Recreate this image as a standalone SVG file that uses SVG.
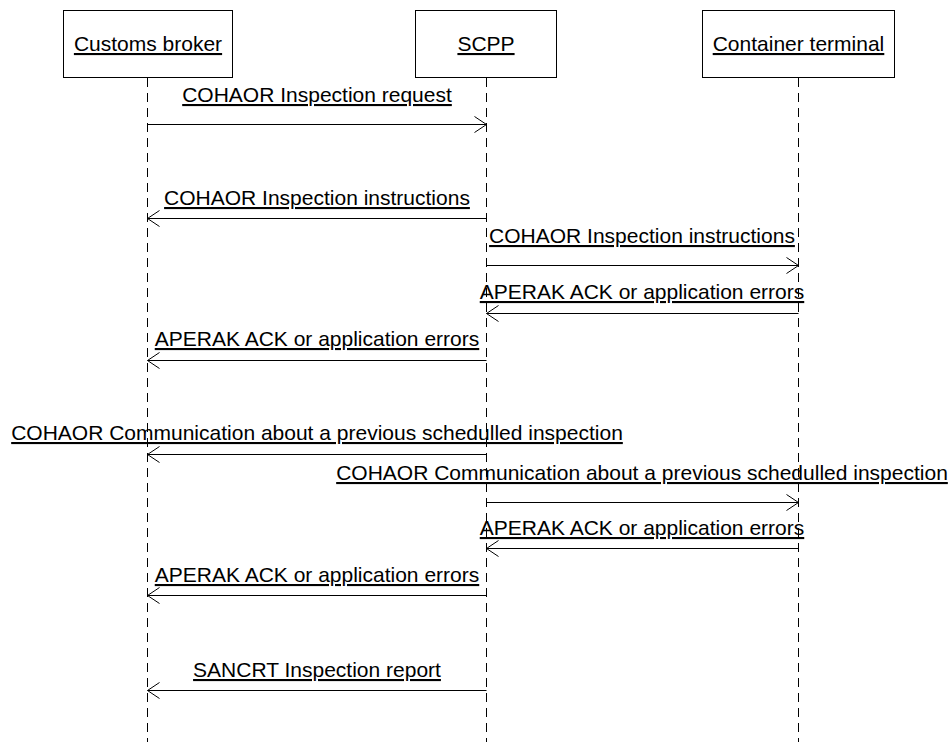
<svg xmlns="http://www.w3.org/2000/svg" width="948" height="742" viewBox="0 0 948 742">
<style>
  text { font-family: "Liberation Sans", Arial, sans-serif; font-size: 21px; fill: #000; text-decoration: underline; text-anchor: middle; }
  .box { fill: #fff; stroke: #000; stroke-width: 1; }
  .life { stroke: #000; stroke-width: 1; stroke-dasharray: 9 6; fill: none; }
  .msg { stroke: #000; stroke-width: 1; fill: none; marker-end: url(#open); }
</style>
<defs>
  <marker id="open" markerUnits="userSpaceOnUse" markerWidth="16" markerHeight="20" viewBox="-14 -10 16 20" refX="0" refY="0" orient="auto">
    <path d="M-12,-8 L0,0 L-12,8" fill="none" stroke="#000" stroke-width="1"/>
  </marker>
</defs>
<rect width="948" height="742" fill="#fff"/>
<g id="lifelines">
  <line class="life" x1="147.5" y1="78" x2="147.5" y2="742"/>
  <line class="life" x1="486.5" y1="78" x2="486.5" y2="742"/>
  <line class="life" x1="798.5" y1="78" x2="798.5" y2="742"/>
</g>
<g id="node-customs-broker">
  <rect class="box" x="63.5" y="10.5" width="169" height="67"/>
  <text x="148" y="51">Customs broker</text>
</g>
<g id="node-scpp">
  <rect class="box" x="415.5" y="10.5" width="141" height="67"/>
  <text x="486" y="51">SCPP</text>
</g>
<g id="node-container-terminal">
  <rect class="box" x="702.5" y="10.5" width="192" height="67"/>
  <text x="798.5" y="51">Container terminal</text>
</g>
<g id="connectors">
  <line class="msg" x1="147.5" y1="124.5" x2="486.5" y2="124.5"/>
  <text x="317" y="102">COHAOR Inspection request</text>

  <line class="msg" x1="486.5" y1="218.5" x2="147.5" y2="218.5"/>
  <text x="317" y="205">COHAOR Inspection instructions</text>

  <line class="msg" x1="486.5" y1="265.5" x2="798.5" y2="265.5"/>
  <text x="642" y="243">COHAOR Inspection instructions</text>

  <line class="msg" x1="798.5" y1="313.5" x2="486.5" y2="313.5"/>
  <text x="642" y="299">APERAK ACK or application errors</text>

  <line class="msg" x1="486.5" y1="360.5" x2="147.5" y2="360.5"/>
  <text x="317" y="346">APERAK ACK or application errors</text>

  <line class="msg" x1="486.5" y1="454.5" x2="147.5" y2="454.5"/>
  <text x="317" y="440">COHAOR Communication about a previous schedulled inspection</text>

  <line class="msg" x1="486.5" y1="502.5" x2="798.5" y2="502.5"/>
  <text x="642" y="480">COHAOR Communication about a previous schedulled inspection</text>

  <line class="msg" x1="798.5" y1="548.5" x2="486.5" y2="548.5"/>
  <text x="642" y="535">APERAK ACK or application errors</text>

  <line class="msg" x1="486.5" y1="595.5" x2="147.5" y2="595.5"/>
  <text x="317" y="582">APERAK ACK or application errors</text>

  <line class="msg" x1="486.5" y1="690.5" x2="147.5" y2="690.5"/>
  <text x="317" y="677">SANCRT Inspection report</text>
</g>
</svg>
